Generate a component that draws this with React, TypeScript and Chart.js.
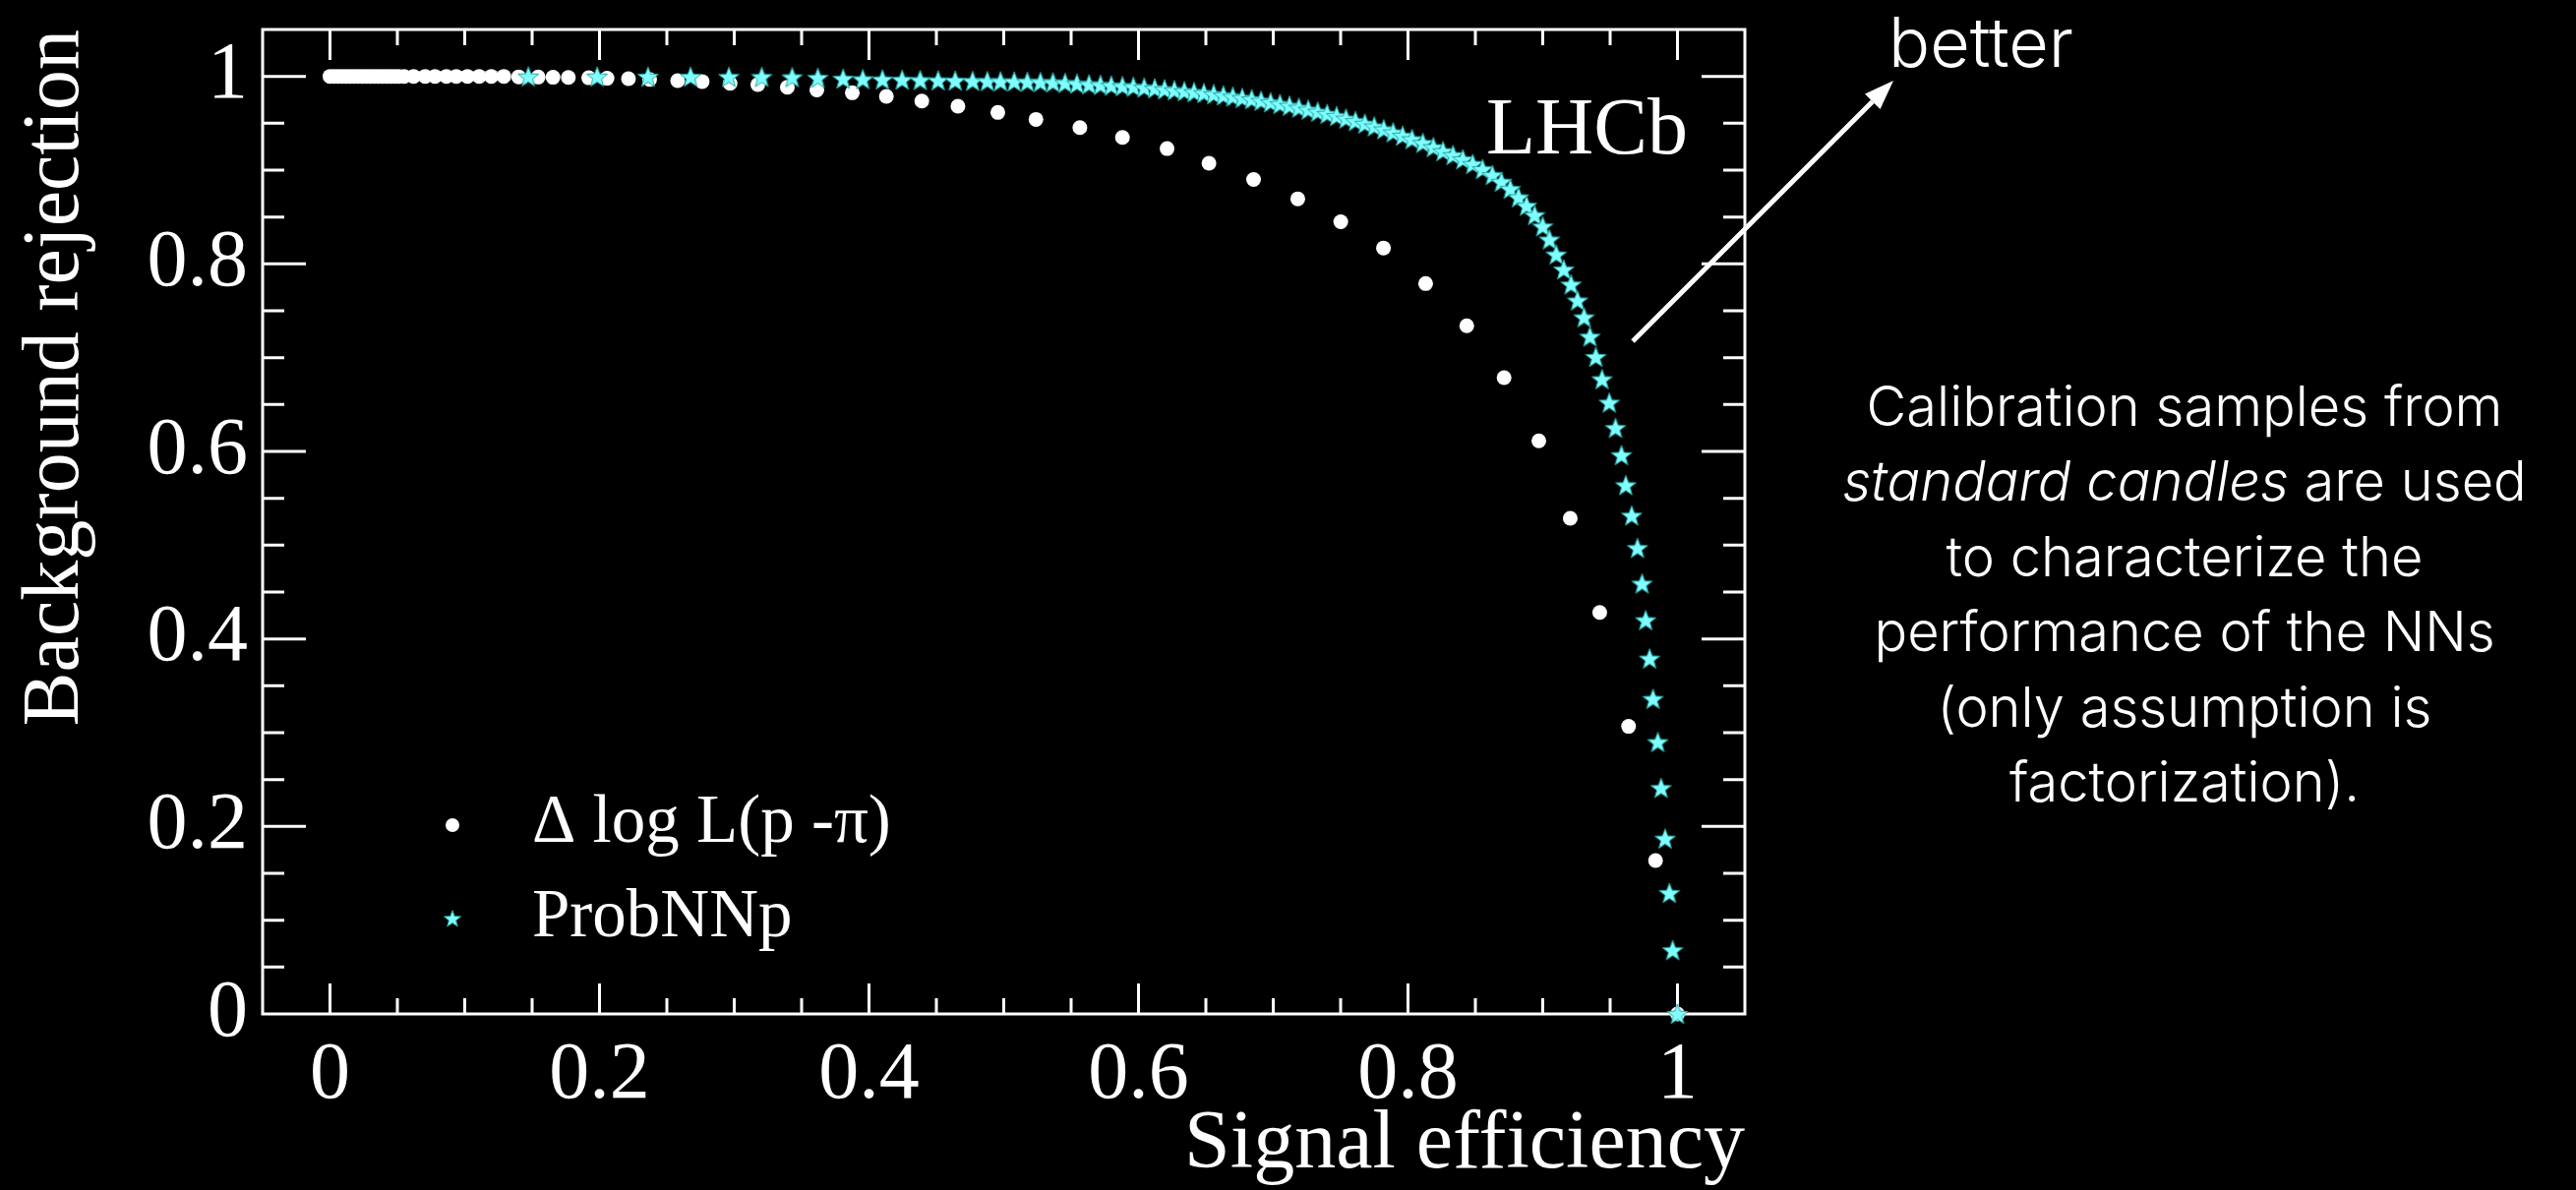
import React, { useEffect, useRef } from "react";
import { Chart, registerables } from "chart.js";

Chart.register(...registerables);

// Background rejection vs signal efficiency for the two proton identification variables.
const DLL_X = [
  0, 0.003, 0.006, 0.009, 0.012, 0.015, 0.018, 0.021, 0.024, 0.027, 0.03, 0.033, 0.036, 0.039,
  0.042, 0.045, 0.048, 0.051, 0.055, 0.062, 0.0706, 0.0779, 0.0864, 0.0937, 0.102, 0.1107,
  0.1197, 0.129, 0.14, 0.1545, 0.1655, 0.1769, 0.192, 0.2056, 0.2215, 0.2372, 0.258, 0.2762,
  0.2969, 0.3175, 0.3394, 0.3613, 0.3876, 0.4129, 0.4392, 0.466, 0.4956, 0.5239, 0.5565,
  0.5881, 0.6212, 0.6523, 0.6854, 0.7182, 0.7501, 0.7818, 0.8131, 0.8436, 0.8713, 0.8971,
  0.9204, 0.9423, 0.9637, 0.9837, 1.0,
];
const DLL_Y = [
  1, 1, 1, 1, 1, 1, 1, 1, 1, 1, 1, 1, 1, 1,
  1, 1, 1, 1, 1, 1, 1, 1, 1, 1, 1, 1,
  1, 1, 0.9995, 0.9993, 0.999, 0.9988, 0.9985, 0.998, 0.9976, 0.9968, 0.9955, 0.9945,
  0.9925, 0.9913, 0.9884, 0.9856, 0.9825, 0.9787, 0.9737, 0.9682, 0.9615, 0.9541, 0.9454,
  0.9349, 0.923, 0.9073, 0.89, 0.8694, 0.8449, 0.817, 0.779, 0.734, 0.6786, 0.6113,
  0.5287, 0.4283, 0.3067, 0.1636, 0,
];

const NN_X = [
  0.1472, 0.1983, 0.236, 0.2676, 0.296, 0.3204, 0.343, 0.362, 0.3808, 0.3954, 0.41, 0.4246,
  0.438, 0.4513, 0.464, 0.4769, 0.4878, 0.4976, 0.5078, 0.5175, 0.5272, 0.5365, 0.5455,
  0.5543, 0.5633, 0.5718, 0.5798, 0.5881, 0.5962, 0.6042, 0.612, 0.6193, 0.6266, 0.634,
  0.6412, 0.6485, 0.6558, 0.663, 0.67, 0.677, 0.684, 0.691, 0.698, 0.705, 0.712, 0.719,
  0.726, 0.733, 0.74, 0.747, 0.754, 0.761, 0.768, 0.775, 0.782, 0.789, 0.796, 0.803, 0.811,
  0.8188, 0.826, 0.8334, 0.8407, 0.848, 0.8553, 0.8626, 0.8693, 0.8759, 0.882, 0.888, 0.894,
  0.9, 0.905, 0.91, 0.9156, 0.921, 0.9258, 0.9307, 0.935, 0.9394, 0.944, 0.9494, 0.954,
  0.9584, 0.9616, 0.966, 0.9703, 0.9737, 0.9764, 0.9793, 0.9818, 0.9854, 0.9878, 0.9908,
  0.994, 0.9964, 1.0,
];
const NN_Y = [
  0.9999, 0.9998, 0.9997, 0.9996, 0.9995, 0.9994, 0.9991, 0.9985, 0.9975, 0.997, 0.9967, 0.9964,
  0.996, 0.9957, 0.9954, 0.9951, 0.9949, 0.9947, 0.9945, 0.9942, 0.9939, 0.9936, 0.993,
  0.9922, 0.9915, 0.9908, 0.9902, 0.9896, 0.9889, 0.9881, 0.9872, 0.9862, 0.9852, 0.9842,
  0.9832, 0.9822, 0.981, 0.9797, 0.9784, 0.977, 0.9756, 0.974, 0.9723, 0.9705, 0.9686, 0.9666,
  0.9645, 0.9623, 0.96, 0.9576, 0.955, 0.9523, 0.9495, 0.9466, 0.9435, 0.9402, 0.9367, 0.933, 0.929,
  0.9245, 0.9202, 0.916, 0.9115, 0.9065, 0.901, 0.8947, 0.8876, 0.88, 0.871, 0.862, 0.852,
  0.84, 0.826, 0.81, 0.794, 0.778, 0.761, 0.743, 0.7224, 0.7007, 0.677, 0.652, 0.625,
  0.596, 0.564, 0.5315, 0.497, 0.459, 0.42, 0.379, 0.336, 0.29, 0.241, 0.187,
  0.129, 0.068, 0,
];

const X_TICKS = [0, 0.2, 0.4, 0.6, 0.8, 1];
const X_TICK_LABELS = ["0", "0.2", "0.4", "0.6", "0.8", "1"];
const Y_TICKS = [0, 0.2, 0.4, 0.6, 0.8, 1];
const Y_TICK_LABELS = ["0", "0.2", "0.4", "0.6", "0.8", "1"];

const SERIES_LABELS = ["\u0394 log L(p -\u03c0)", "ProbNNp"];
const X_TITLE = "Signal efficiency";
const Y_TITLE = "Background rejection";
const EXPERIMENT = "LHCb";
const ARROW_LABEL = "better";
const NOTE_LINES: { text: string; italic: boolean }[][] = [
  [{ text: "Calibration samples from", italic: false }],
  [
    { text: "standard candles", italic: true },
    { text: " are used", italic: false },
  ],
  [{ text: "to characterize the", italic: false }],
  [{ text: "performance of the NNs", italic: false }],
  [{ text: "(only assumption is", italic: false }],
  [{ text: "factorization).", italic: false }],
];

const W = 2619;
const H = 1210;
const SERIF = "'Liberation Serif', 'Times New Roman', serif";
const SANS = "Inter, Roboto, 'Liberation Sans', sans-serif";
const STAR_FILL = "rgb(128,255,255)";
const STAR_EDGE = "rgb(40,160,160)";

function makeStar(R: number): HTMLCanvasElement {
  const size = Math.ceil(R * 2 + 4);
  const c = document.createElement("canvas");
  c.width = size;
  c.height = size;
  const g = c.getContext("2d")!;
  g.translate(size / 2, size / 2 + R * 0.08);
  g.beginPath();
  for (let i = 0; i < 10; i++) {
    const r = i % 2 === 0 ? R : R * 0.42;
    const a = -Math.PI / 2 + (i * Math.PI) / 5;
    const px = r * Math.cos(a);
    const py = r * Math.sin(a);
    if (i === 0) g.moveTo(px, py);
    else g.lineTo(px, py);
  }
  g.closePath();
  g.fillStyle = STAR_FILL;
  g.fill();
  g.strokeStyle = STAR_EDGE;
  g.lineWidth = 1;
  g.stroke();
  return c;
}

function makeFramePlugin(star: HTMLCanvasElement) {
  return {
    id: "rootFrame",
    beforeDatasetsDraw(chart: any) {
      const { ctx, chartArea: a, scales } = chart;
      const xs = scales.x;
      const ys = scales.y;
      ctx.save();
      ctx.strokeStyle = "#fff";
      ctx.lineWidth = 3;
      ctx.strokeRect(a.left, a.top, a.right - a.left, a.bottom - a.top);
      ctx.beginPath();
      for (let k = 0; k < 21; k++) {
        const v = k * 0.05;
        const major = k % 4 === 0;
        const len = major ? 31 : 16;
        const px = xs.getPixelForValue(v);
        ctx.moveTo(px, a.bottom);
        ctx.lineTo(px, a.bottom - len);
        ctx.moveTo(px, a.top);
        ctx.lineTo(px, a.top + len);
      }
      for (let k = 1; k < 21; k++) {
        const v = k * 0.05;
        const major = k % 4 === 0;
        const len = major ? 44 : 22;
        const py = ys.getPixelForValue(v);
        ctx.moveTo(a.left, py);
        ctx.lineTo(a.left + len, py);
        ctx.moveTo(a.right, py);
        ctx.lineTo(a.right - len, py);
      }
      ctx.stroke();
      ctx.restore();
    },
    afterDraw(chart: any) {
      const { ctx } = chart;
      ctx.save();
      ctx.fillStyle = "#fff";
      ctx.textBaseline = "alphabetic";

      // legend
      ctx.beginPath();
      ctx.arc(460, 839, 7, 0, Math.PI * 2);
      ctx.fill();
      ctx.drawImage(star, 460 - star.width / 2, 934 - star.height / 2);
      ctx.font = `69px ${SERIF}`;
      ctx.textAlign = "left";
      ctx.fillText(SERIES_LABELS[0], 541, 856);
      ctx.fillText(SERIES_LABELS[1], 541, 952);

      // experiment label
      ctx.font = `82px ${SERIF}`;
      ctx.fillText(EXPERIMENT, 1511, 156);

      // arrow
      const x0 = 1660, y0 = 347, x1 = 1925, y1 = 82;
      const ang = Math.atan2(y1 - y0, x1 - x0);
      const headLen = 30, headHalf = 11;
      const bx = x1 - headLen * Math.cos(ang);
      const by = y1 - headLen * Math.sin(ang);
      ctx.strokeStyle = "#fff";
      ctx.lineWidth = 5;
      ctx.beginPath();
      ctx.moveTo(x0, y0);
      ctx.lineTo(bx, by);
      ctx.stroke();
      ctx.beginPath();
      ctx.moveTo(x1, y1);
      ctx.lineTo(bx + headHalf * Math.sin(ang), by - headHalf * Math.cos(ang));
      ctx.lineTo(bx - headHalf * Math.sin(ang), by + headHalf * Math.cos(ang));
      ctx.closePath();
      ctx.fill();

      ctx.font = `300 70px ${SANS}`;
      ctx.textAlign = "center";
      ctx.fillText(ARROW_LABEL, 2014, 68);

      // explanatory note
      const cx = 2221;
      const size = 56;
      NOTE_LINES.forEach((segs, i) => {
        const y = 433 + i * 76.4;
        const widths = segs.map((s) => {
          ctx.font = `${s.italic ? "italic " : ""}300 ${size}px ${SANS}`;
          return ctx.measureText(s.text).width;
        });
        const total = widths.reduce((p, q) => p + q, 0);
        let x = cx - total / 2;
        ctx.textAlign = "left";
        segs.forEach((s, j) => {
          ctx.font = `${s.italic ? "italic " : ""}300 ${size}px ${SANS}`;
          ctx.fillText(s.text, x, y);
          x += widths[j];
        });
      });
      ctx.restore();
    },
  };
}

export default function App() {
  const ref = useRef<HTMLCanvasElement>(null);

  useEffect(() => {
    document.body.style.margin = "0";
    document.body.style.background = "#000";
    const star = makeStar(11);
    const chart = new Chart(ref.current!, {
      type: "scatter",
      data: {
        datasets: [
          {
            label: SERIES_LABELS[1],
            data: NN_X.map((x, i) => ({ x, y: NN_Y[i] })),
            pointStyle: star as any,
            pointRadius: 11,
            order: 0,
            clip: false as any,
          },
          {
            label: SERIES_LABELS[0],
            data: DLL_X.map((x, i) => ({ x, y: DLL_Y[i] })),
            pointStyle: "circle",
            pointRadius: 7.5,
            backgroundColor: "#fff",
            borderWidth: 0,
            order: 1,
            clip: false as any,
          },
        ],
      },
      options: {
        animation: false,
        responsive: false,
        devicePixelRatio: 1,
        events: [],
        layout: { padding: { left: 0, top: 30, right: W - 1774, bottom: 0 } },
        plugins: { legend: { display: false }, tooltip: { enabled: false } },
        scales: {
          x: {
            type: "linear",
            min: -0.05,
            max: 1.05,
            grid: { display: false, drawTicks: false },
            border: { display: false },
            afterBuildTicks: (s: any) => {
              s.ticks = X_TICKS.map((v) => ({ value: v }));
            },
            afterFit: (s: any) => {
              s.height = H - 1031;
              s.paddingLeft = 0;
              s.paddingRight = 0;
            },
            ticks: {
              color: "#fff",
              font: { family: SERIF, size: 82, lineHeight: 1.2 },
              padding: 14,
              autoSkip: false,
              maxRotation: 0,
              callback: (v: any) => {
                const i = X_TICKS.indexOf(Number(v));
                return i >= 0 ? X_TICK_LABELS[i] : "";
              },
            },
            title: {
              display: true,
              text: X_TITLE,
              align: "end",
              color: "#fff",
              font: { family: SERIF, size: 84, lineHeight: 1 },
              padding: { top: 0, bottom: 3 },
            },
          },
          y: {
            type: "linear",
            min: 0,
            max: 1.05,
            grid: { display: false, drawTicks: false },
            border: { display: false },
            afterBuildTicks: (s: any) => {
              s.ticks = Y_TICKS.map((v) => ({ value: v }));
            },
            afterFit: (s: any) => {
              s.width = 267;
              s.paddingTop = 0;
              s.paddingBottom = 0;
            },
            ticks: {
              color: "#fff",
              font: { family: SERIF, size: 82, lineHeight: 1.2 },
              padding: 15,
              autoSkip: false,
              callback: (v: any) => {
                const i = Y_TICKS.indexOf(Number(v));
                return i >= 0 ? Y_TICK_LABELS[i] : "";
              },
            },
            title: {
              display: true,
              text: Y_TITLE,
              align: "end",
              color: "#fff",
              font: { family: SERIF, size: 82, lineHeight: 1.2 },
              padding: { top: 8, bottom: 0 },
            },
          },
        },
      } as any,
      plugins: [makeFramePlugin(makeStar(9))],
    });
    return () => chart.destroy();
  }, []);

  return (
    <div style={{ width: W, height: H, background: "#000", position: "relative", overflow: "hidden" }}>
      <canvas ref={ref} width={W} height={H} style={{ display: "block", width: W, height: H }} />
    </div>
  );
}
